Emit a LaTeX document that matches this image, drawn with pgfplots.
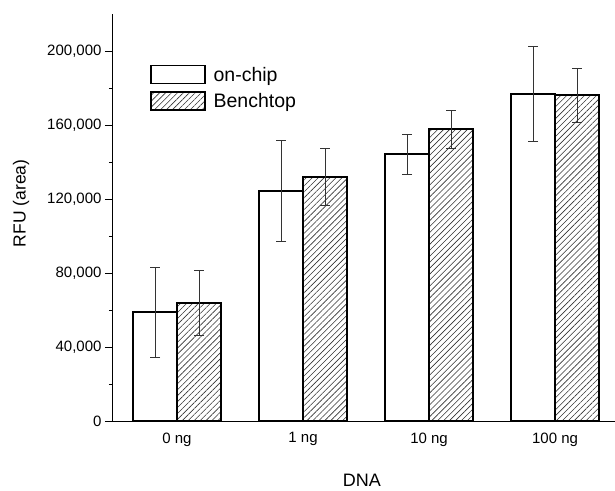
\documentclass[border=0pt]{standalone}
\usepackage{fontspec}
\setmainfont{Liberation Sans}
\usepackage{pgfplots}
\pgfplotsset{compat=1.18}
\usepackage{pgfplotstable}
\usetikzlibrary{patterns.meta,calc}

\pgfplotsset{boxlegend/.style={legend image code/.code={\draw[##1] (0pt,-9pt) rectangle (54pt,9pt);}}}

% DNA amount (0,1,10,100 ng as 0..3), mean RFU, error
\pgfplotstableread{
x y e
0 58900 24300
1 124300 27300
2 144300 10800
3 176800 25700
}\onchip
\pgfplotstableread{
x y e
0 63800 17600
1 131900 15400
2 157800 10300
3 176200 14600
}\bench

\begin{document}
\begin{tikzpicture}
\begin{axis}[
  name=ax,
  scale only axis,
  width=502pt, height=407pt,
  xmin=-0.508, xmax=3.476,
  ymin=0, ymax=220000,
  axis lines=left,
  axis line style={-, line width=1pt},
  ybar=0pt, bar width=44pt,
  xtick={0,1,2,3},
  xticklabels={0 ng, 1 ng, 10 ng, 100 ng},
  x tick style={draw=none},
  ytick={0,40000,80000,120000,160000,200000},
  yticklabels={0,{40,000},{80,000},{120,000},{160,000},{200,000}},
  minor y tick num=1,
  tick align=outside,
  major tick length=8pt, minor tick length=4pt,
  y tick style={line width=0.8pt, black},
  scaled y ticks=false,
  ticklabel style={font=\fontsize{15}{17}\selectfont},
  ylabel={RFU (area)},
  ylabel style={at={(axis description cs:-0.183,0.535)}, anchor=center, font=\fontsize{17.5}{20}\selectfont},
  xlabel={DNA},
  xlabel style={at={(axis description cs:0.496,-0.162)}, anchor=base, inner sep=0pt, font=\fontsize{18}{20}\selectfont},
  legend style={draw=none, fill=none, at={(axis description cs:0.0737,0.875)}, anchor=north west,
    inner sep=0pt, row sep=7pt, font=\fontsize{19.5}{21}\selectfont,
    nodes={inner sep=0pt},
    /tikz/every odd column/.append style={column sep=8pt}},
  legend cell align=left,
]
\addplot[draw=black, line width=1.4pt, fill=white, boxlegend,
  error bars/.cd, y dir=both, y explicit, error mark=-,
  error bar style={line width=0.8pt, black!80},
  error mark options={rotate=90, mark size=5pt, line width=0.8pt, black!80}]
  table[x=x, y=y, y error=e] {\onchip};
\addplot[draw=black, line width=1.4pt,
  pattern={Lines[angle=45, distance=4.2pt, line width=0.6pt]}, pattern color=black!80, boxlegend,
  error bars/.cd, y dir=both, y explicit, error mark=-,
  error bar style={line width=0.8pt, black!80},
  error mark options={rotate=90, mark size=5pt, line width=0.8pt, black!80}]
  table[x=x, y=y, y error=e] {\bench};
\legend{on-chip, Benchtop}
\end{axis}
\pgfresetboundingbox
\path[use as bounding box] ($(ax.south west)+(-113pt,-69pt)$) rectangle ($(ax.south west)+(502pt,421pt)$);
\end{tikzpicture}
\end{document}
